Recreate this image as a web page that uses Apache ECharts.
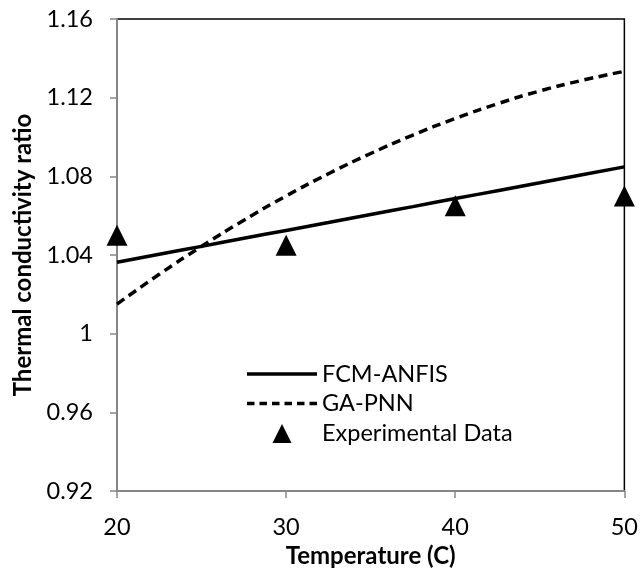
<!DOCTYPE html>
<html>
<head>
<meta charset="utf-8">
<script src="https://cdn.jsdelivr.net/npm/echarts@6/dist/echarts.min.js"></script>
<style>
  html, body { margin: 0; padding: 0; background: #fff; }
  #container { width: 641px; height: 576px; }
</style>
</head>
<body>
<div id="container"></div>
<script>
var dom = document.getElementById('container');
var myChart = echarts.init(dom, null, { renderer: 'canvas' });

// values
var temps = [20, 22.5, 25, 27.5, 30, 32.5, 35, 37.5, 40, 42.5, 45, 47.5, 50];
var fcmAnfis = [1.0363, 1.0404, 1.0444, 1.0485, 1.0525, 1.0565, 1.0606, 1.0646, 1.0687, 1.0727, 1.0767, 1.0808, 1.0848];
var gaPnn = [1.015, 1.0302, 1.0444, 1.0577, 1.070, 1.0813, 1.0916, 1.1010, 1.1094, 1.1169, 1.1234, 1.1288, 1.1334];
var expTemps = [20, 30, 40, 50];
var expData = [1.050, 1.045, 1.065, 1.070];

var font = 'Lato';
var dash = [9, 5.5];

// legend icons: solid bar, dashed bar, small triangle kept in a 70px wide box
var solidIcon = 'path://M0,0h70v3.5h-70z';
var dashedIcon = 'path://M0,0h7.5v3.5h-7.5z M12.5,0h7.5v3.5h-7.5z M25,0h7.5v3.5h-7.5z M37.5,0h7.5v3.5h-7.5z M50,0h7.5v3.5h-7.5z M62.5,0h7.5v3.5h-7.5z';
var triIcon = 'path://M0,0L0,0 M70,19L70,19 M25.5,19L35,0L44.5,19Z';

function pairs(xs, ys) {
    return xs.map(function (x, i) { return [x, ys[i]]; });
}

function legendAt(name, top, icon) {
    return {
        orient: 'vertical',
        left: 247, top: top,
        padding: 0,
        itemWidth: 70, itemHeight: 21,
        selectedMode: false,
        textStyle: { fontFamily: font, fontSize: 23.5, color: '#000' },
        data: [{ name: name, icon: icon }]
    };
}

var option = {
    animation: false,
    backgroundColor: '#fff',
    grid: {
        left: 117, right: 15, top: 19, bottom: 85,
        show: true, borderColor: '#000', borderWidth: 1.5
    },
    legend: [
        legendAt('FCM-ANFIS', 362, solidIcon),
        legendAt('GA-PNN', 391.5, dashedIcon),
        legendAt('Experimental Data', 421.5, triIcon)
    ],
    xAxis: {
        type: 'value',
        min: 20, max: 50, interval: 10,
        name: 'Temperature (C)',
        nameLocation: 'middle',
        nameGap: 52,
        nameTextStyle: { fontFamily: font, fontSize: 24, fontWeight: 'bold', color: '#000' },
        axisLine: { lineStyle: { color: '#868686', width: 2 } },
        axisTick: { show: true, length: 7, lineStyle: { color: '#868686', width: 1.5 } },
        axisLabel: { margin: 24, fontFamily: font, fontSize: 23.5, color: '#000' },
        splitLine: { show: false }
    },
    yAxis: {
        type: 'value',
        min: 0.92, max: 1.16, interval: 0.04,
        name: 'Thermal conductivity ratio',
        nameLocation: 'middle',
        nameGap: 80,
        nameTextStyle: { fontFamily: font, fontSize: 24, fontWeight: 'bold', color: '#000' },
        axisLine: { show: true, lineStyle: { color: '#868686', width: 2 } },
        axisTick: { show: true, length: 7, lineStyle: { color: '#868686', width: 1.5 } },
        axisLabel: {
            margin: 24, fontFamily: font, fontSize: 23.5, color: '#000',
            formatter: function (v) {
                return (Math.round(v * 100) / 100).toString();
            }
        },
        splitLine: { show: false }
    },
    series: [
        {
            name: 'FCM-ANFIS',
            type: 'line',
            data: pairs(temps, fcmAnfis),
            smooth: true,
            symbol: 'none',
            lineStyle: { color: '#000', width: 3.5, type: 'solid' },
            itemStyle: { color: '#000' },
            z: 3
        },
        {
            name: 'GA-PNN',
            type: 'line',
            data: pairs(temps, gaPnn),
            smooth: true,
            symbol: 'none',
            lineStyle: { color: '#000', width: 3.5, type: dash },
            itemStyle: { color: '#000' },
            z: 3
        },
        {
            name: 'Experimental Data',
            type: 'scatter',
            data: pairs(expTemps, expData),
            symbol: 'triangle',
            symbolSize: [21, 21],
            itemStyle: { color: '#000', opacity: 1 },
            z: 4
        }
    ]
};

myChart.setOption(option);
</script>
</body>
</html>
